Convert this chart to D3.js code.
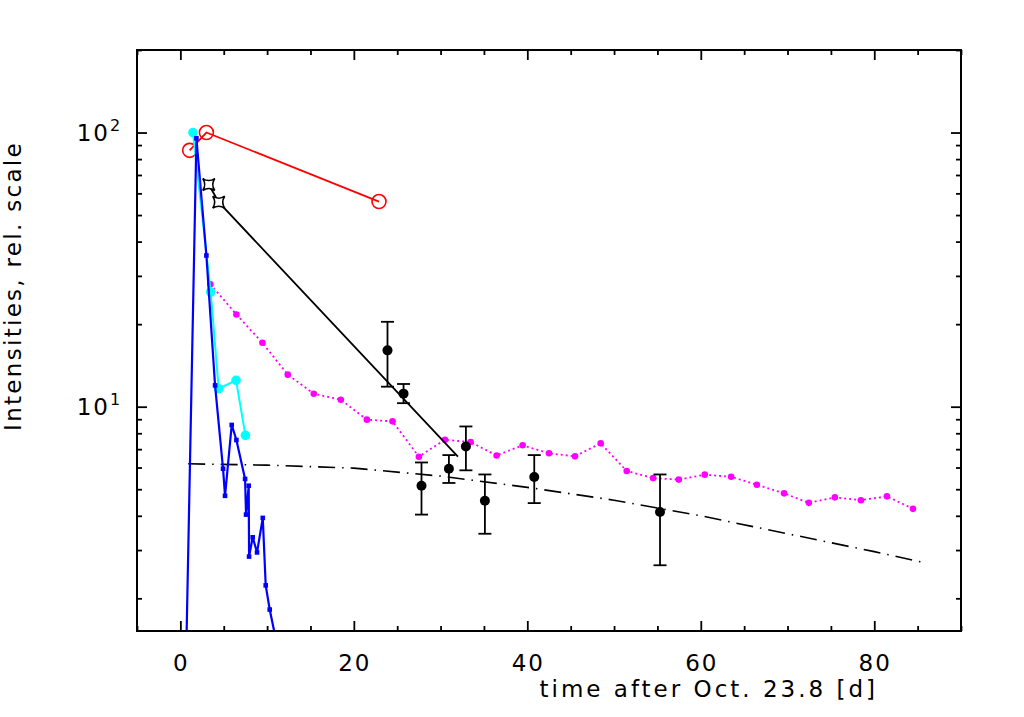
<!DOCTYPE html>
<html>
<head>
<meta charset="utf-8">
<script src="https://cdn.jsdelivr.net/npm/d3@7"></script>
<style>
  html, body { margin: 0; padding: 0; background: #fff; }
  svg text { font-family: "DejaVu Sans", sans-serif; fill: #000; }
</style>
</head>
<body>
<svg id="chart" width="1024" height="717"></svg>
<script>
// ---- data ----
const redX = [1.07, 3.0, 22.9];
const redY = [86.1, 100, 56.0];

const cyanX = [1.45, 3.5, 4.42, 6.42, 7.5];
const cyanY = [100, 26.2, 11.63, 12.48, 7.86];

const blueX = [0.55, 1.85, 3.0, 4.0, 4.92, 5.15, 5.92, 6.46, 7.46, 7.57, 7.88, 7.92, 8.34, 8.84, 9.5, 9.84, 10.3, 10.85];
const blueY = [0.8, 95.3, 35.6, 11.96, 5.94, 4.73, 8.58, 7.56, 5.45, 4.04, 5.15, 2.84, 3.34, 2.94, 3.93, 2.23, 1.82, 1.50];
const blueMarked = [false, true, true, true, true, true, true, true, true, true, true, true, true, true, true, true, true, true];

const starX = [3.27, 4.42];
const starY = [64.6, 55.7];
const blackLineX = [3.27, 4.42, 32.0];
const blackLineY = [64.6, 55.7, 6.57];

const errX = [23.88, 25.73, 27.8, 30.96, 32.92, 35.11, 40.8, 55.3];
const errY = [16.05, 11.16, 5.15, 5.94, 7.16, 4.54, 5.54, 4.13];
const errHi = [20.4, 12.1, 6.26, 6.66, 8.47, 5.66, 6.66, 5.66];
const errLo = [11.83, 10.3, 4.04, 5.27, 5.86, 3.44, 4.45, 2.64];

const magX = [3.46, 6.46, 9.46, 12.38, 15.38, 18.5, 21.5, 24.46, 27.5, 30.5, 33.46, 36.46, 39.46, 42.5, 45.5, 48.46, 51.46, 54.5, 57.46, 60.46, 63.5, 66.46, 69.6, 72.46, 75.46, 78.46, 81.46, 84.46];
const magY = [27.96, 21.7, 17.1, 13.09, 11.15, 10.6, 8.97, 8.84, 6.57, 7.58, 7.43, 6.64, 7.23, 6.76, 6.59, 7.35, 5.83, 5.49, 5.42, 5.65, 5.55, 5.19, 4.83, 4.46, 4.67, 4.56, 4.71, 4.24];

const dashX = [0.9, 10, 20, 30, 40, 50, 60, 70, 80, 86];
const dashY = [6.19, 6.12, 5.97, 5.58, 5.08, 4.56, 4.00, 3.44, 2.96, 2.69];

const xMajorTicks = [0, 20, 40, 60, 80];
const xMinorTicks = [-5, 5, 10, 15, 25, 30, 35, 45, 50, 55, 65, 70, 75, 85, 90];
const yMajorTicks = [10, 100];
const yMinorTicks = [2, 3, 4, 5, 6, 7, 8, 9, 20, 30, 40, 50, 60, 70, 80, 90, 200];
const yTickLabels = [["10", "1"], ["10", "2"]];
const xLabel = "time after Oct. 23.8 [d]";
const yLabel = "Intensities, rel. scale";

// ---- layout ----
const L = 137, R = 961, T = 50, B = 631;
const svg = d3.select("#chart");
const x = d3.scaleLinear().domain([-5, 90]).range([L, R]);
const y = d3.scaleLog().domain([1.52, 200]).range([B, T]);

svg.append("defs").append("clipPath").attr("id", "clip")
  .append("rect").attr("x", L).attr("y", T).attr("width", R - L).attr("height", B - T);

const plot = svg.append("g").attr("clip-path", "url(#clip)");
const pts = (xs, ys) => xs.map((v, i) => [v, ys[i]]);
const line = d3.line().x(d => x(d[0])).y(d => y(d[1]));

// dash-dot curve
plot.append("path").datum(pts(dashX, dashY))
  .attr("d", line).attr("fill", "none").attr("stroke", "#000")
  .attr("stroke-width", 1.6).attr("stroke-dasharray", "17,7,1.5,7");

// magenta dotted
plot.append("path").datum(pts(magX, magY))
  .attr("d", line).attr("fill", "none").attr("stroke", "#ff00ff")
  .attr("stroke-width", 1.8).attr("stroke-dasharray", "2,3");
plot.selectAll(".mag").data(pts(magX, magY)).enter().append("circle")
  .attr("cx", d => x(d[0])).attr("cy", d => y(d[1])).attr("r", 3.3).attr("fill", "#ff00ff");

// black solid line + stars
plot.append("path").datum(pts(blackLineX, blackLineY))
  .attr("d", line).attr("fill", "none").attr("stroke", "#000").attr("stroke-width", 1.8);
const starPath = "M-6,-6 Q0,-2 6,-6 Q2,0 6,6 Q0,2 -6,6 Q-2,0 -6,-6 Z";
plot.selectAll(".star").data(pts(starX, starY)).enter().append("path")
  .attr("d", starPath)
  .attr("transform", d => `translate(${x(d[0])},${y(d[1])})`)
  .attr("fill", "#fff").attr("stroke", "#000").attr("stroke-width", 1.6);

// error bars
const errData = errX.map((v, i) => ({ x: v, y: errY[i], hi: errHi[i], lo: errLo[i] }));
const eg = plot.selectAll(".err").data(errData).enter().append("g");
eg.append("line").attr("x1", d => x(d.x)).attr("x2", d => x(d.x))
  .attr("y1", d => y(d.hi)).attr("y2", d => y(d.lo)).attr("stroke", "#000").attr("stroke-width", 1.8);
eg.append("line").attr("x1", d => x(d.x) - 6.5).attr("x2", d => x(d.x) + 6.5)
  .attr("y1", d => y(d.hi)).attr("y2", d => y(d.hi)).attr("stroke", "#000").attr("stroke-width", 1.8);
eg.append("line").attr("x1", d => x(d.x) - 6.5).attr("x2", d => x(d.x) + 6.5)
  .attr("y1", d => y(d.lo)).attr("y2", d => y(d.lo)).attr("stroke", "#000").attr("stroke-width", 1.8);
eg.append("circle").attr("cx", d => x(d.x)).attr("cy", d => y(d.y)).attr("r", 5).attr("fill", "#000");

// red
plot.append("path").datum(pts(redX, redY))
  .attr("d", line).attr("fill", "none").attr("stroke", "#ff0000").attr("stroke-width", 1.8);
plot.selectAll(".red").data(pts(redX, redY)).enter().append("circle")
  .attr("cx", d => x(d[0])).attr("cy", d => y(d[1])).attr("r", 7)
  .attr("fill", "none").attr("stroke", "#ff0000").attr("stroke-width", 1.6);

// cyan
plot.append("path").datum(pts(cyanX, cyanY))
  .attr("d", line).attr("fill", "none").attr("stroke", "#00ffff").attr("stroke-width", 2);
plot.selectAll(".cyan").data(pts(cyanX, cyanY)).enter().append("circle")
  .attr("cx", d => x(d[0])).attr("cy", d => y(d[1])).attr("r", 4.8).attr("fill", "#00ffff");

// blue
plot.append("path").datum(pts(blueX, blueY))
  .attr("d", line).attr("fill", "none").attr("stroke", "#0000ff").attr("stroke-width", 2.2);
plot.selectAll(".blue").data(pts(blueX, blueY).filter((d, i) => blueMarked[i])).enter().append("rect")
  .attr("x", d => x(d[0]) - 2.3).attr("y", d => y(d[1]) - 2.3)
  .attr("width", 4.6).attr("height", 4.6).attr("fill", "#0000ff");

// ---- axes (inward ticks on all sides) ----
const axStyle = g => { g.select(".domain").remove(); g.selectAll("line").attr("stroke", "#000").attr("stroke-width", 1.8); g.selectAll("text").remove(); };
svg.append("g").attr("transform", `translate(0,${B})`).call(d3.axisBottom(x).tickValues(xMajorTicks).tickSize(-10)).call(axStyle);
svg.append("g").attr("transform", `translate(0,${B})`).call(d3.axisBottom(x).tickValues(xMinorTicks).tickSize(-5)).call(axStyle);
svg.append("g").attr("transform", `translate(0,${T})`).call(d3.axisTop(x).tickValues(xMajorTicks).tickSize(-10)).call(axStyle);
svg.append("g").attr("transform", `translate(0,${T})`).call(d3.axisTop(x).tickValues(xMinorTicks).tickSize(-5)).call(axStyle);
svg.append("g").attr("transform", `translate(${L},0)`).call(d3.axisLeft(y).tickValues(yMajorTicks).tickSize(-10)).call(axStyle);
svg.append("g").attr("transform", `translate(${L},0)`).call(d3.axisLeft(y).tickValues(yMinorTicks).tickSize(-5)).call(axStyle);
svg.append("g").attr("transform", `translate(${R},0)`).call(d3.axisRight(y).tickValues(yMajorTicks).tickSize(-10)).call(axStyle);
svg.append("g").attr("transform", `translate(${R},0)`).call(d3.axisRight(y).tickValues(yMinorTicks).tickSize(-5)).call(axStyle);

svg.append("rect").attr("x", L).attr("y", T).attr("width", R - L).attr("height", B - T)
  .attr("fill", "none").attr("stroke", "#000").attr("stroke-width", 2);

// tick labels
svg.selectAll(".xtl").data(xMajorTicks).enter().append("text")
  .attr("x", d => x(d) + 1).attr("y", 671).attr("text-anchor", "middle")
  .attr("font-size", 23).attr("letter-spacing", 2).text(d => d);

const ytl = svg.selectAll(".ytl").data(yMajorTicks).enter().append("text")
  .attr("x", 110).attr("y", d => y(d) + 8.5).attr("text-anchor", "end")
  .attr("font-size", 23).attr("letter-spacing", 2);
ytl.append("tspan").text((d, i) => yTickLabels[i][0]);
svg.selectAll(".yts").data(yMajorTicks).enter().append("text")
  .attr("x", 110).attr("y", d => y(d) - 2).attr("font-size", 16)
  .text((d, i) => yTickLabels[i][1]);

// axis titles
svg.append("text").attr("x", 878).attr("y", 697).attr("text-anchor", "end")
  .attr("font-size", 23).attr("letter-spacing", 3).text(xLabel);
svg.append("text").attr("transform", "translate(21,286) rotate(-90)").attr("text-anchor", "middle")
  .attr("font-size", 23).attr("letter-spacing", 2.3).text(yLabel);
</script>
</body>
</html>
